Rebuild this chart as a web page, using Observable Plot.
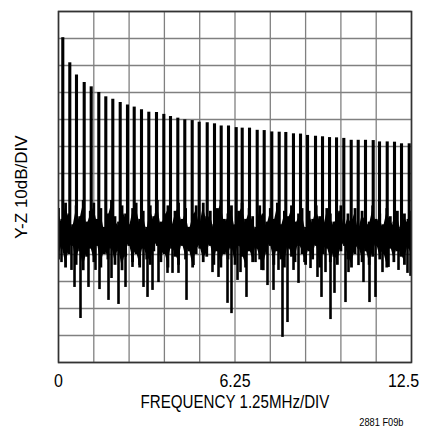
<!DOCTYPE html>
<html>
<head>
<meta charset="utf-8">
<script src="https://cdn.jsdelivr.net/npm/d3@7"></script>
<script src="https://cdn.jsdelivr.net/npm/@observablehq/plot@0.6"></script>
<style>
  html, body { margin: 0; padding: 0; background: #fff; }
  svg { overflow: visible; }
</style>
</head>
<body>
<div id="chart"></div>
<script>
// ---- data ----
const xTickLabels = [0, 6.25, 12.5];
const xGridMHz = [0, 1.25, 2.5, 3.75, 5, 6.25, 7.5, 8.75, 10, 11.25, 12.5];
const yGridDb = [0, 10, 20, 30, 40, 50, 60, 70, 80, 90, 100, 110, 120, 130];

// harmonic spikes (MHz, dB)
const spikeMHz = [
  0.152,0.400,0.637,0.910,1.158,1.427,1.675,1.923,2.185,2.443,
  2.681,2.939,3.198,3.470,3.729,3.966,4.225,4.472,4.734,4.982,
  5.266,5.524,5.761,6.020,6.293,6.505,6.764,7.036,7.284,7.553,
  7.815,8.049,8.320,8.570,8.818,9.101,9.349,9.597,9.845,10.103,
  10.365,10.613,10.871,11.144,11.367,11.640,11.898,12.146,12.419
];
const spikeDb = [
  120.3,111.0,106.5,103.7,102.1,100.0,98.4,97.5,96.3,95.4,
  94.6,93.6,92.7,92.6,91.9,91.1,90.5,89.9,89.6,89.0,
  88.8,88.4,87.6,87.6,87.0,86.8,86.8,86.0,85.9,85.4,
  85.3,85.2,84.7,84.6,84.1,83.8,83.6,83.3,83.2,83.0,
  82.3,82.3,82.3,82.2,81.7,81.7,81.6,81.0,81.0
];

// noise-floor level where spikes and dips join the band
const floorDb = 46;

// downward noise dips (MHz, dB)
const dipMHz = [
  0.106,0.460,0.567,0.779,1.062,1.310,1.452,1.771,1.877,2.125,
  2.373,2.620,2.868,3.010,3.152,3.329,3.541,3.860,4.037,4.249,
  4.533,4.780,5.453,5.666,5.985,6.126,6.339,6.445,6.657,6.976,
  7.188,7.401,7.613,7.790,7.932,8.109,8.322,8.499,8.711,8.924,
  9.171,9.313,9.455,9.632,9.773,10.163,10.269,10.623,10.800,11.013,
  11.225,11.473,11.686,12.040,12.358,12.465
];
const dipDb = [
  37.0,34.1,27.8,16.3,27.8,34.1,27.0,23.0,31.1,21.5,
  27.8,35.2,35.9,27.8,24.1,26.7,29.6,33.0,33.0,33.0,
  23.0,35.9,33.3,31.5,21.9,18.1,30.4,33.3,24.1,37.0,
  34.1,28.5,26.7,34.1,9.3,14.8,34.1,29.3,37.0,34.8,
  31.5,24.1,33.3,15.9,25.6,22.2,33.3,35.9,29.6,22.2,
  24.1,33.3,35.2,34.1,33.0,31.9
];

// dense noise band envelope (MHz, low dB, high dB)
const bandMHz = [
  0,0.125,0.25,0.375,0.5,0.625,0.75,0.875,1,1.125,
  1.25,1.375,1.5,1.625,1.75,1.875,2,2.125,2.25,2.375,
  2.5,2.625,2.75,2.875,3,3.125,3.25,3.375,3.5,3.625,
  3.75,3.875,4,4.125,4.25,4.375,4.5,4.625,4.75,4.875,
  5,5.125,5.25,5.375,5.5,5.625,5.75,5.875,6,6.125,
  6.25,6.375,6.5,6.625,6.75,6.875,7,7.125,7.25,7.375,
  7.5,7.625,7.75,7.875,8,8.125,8.25,8.375,8.5,8.625,
  8.75,8.875,9,9.125,9.25,9.375,9.5,9.625,9.75,9.875,
  10,10.125,10.25,10.375,10.5,10.625,10.75,10.875,11,11.125,
  11.25,11.375,11.5,11.625,11.75,11.875,12,12.125,12.25,12.375,
  12.5
];
const bandHigh = [
  57,53,59,55,51,58,54,60,52,56,
  59,53,57,50,55,60,54,52,58,55,
  51,57,59,53,56,50,58,54,60,52,
  55,58,51,56,59,53,57,50,55,58,
  52,59,54,56,51,57,60,53,55,58,
  51,56,59,53,57,54,50,58,55,52,
  57,53,59,51,56,54,58,52,55,57,
  50,56,53,58,54,51,57,55,52,56,
  58,51,55,53,57,50,56,54,52,58,
  53,55,51,57,54,52,56,50,55,53,
  56
];
const bandLow = [
  38,42,35,40,43,36,41,34,39,42,
  37,43,35,40,38,42,36,41,34,39,
  43,37,40,35,42,38,36,41,43,37,
  40,35,42,39,36,43,38,41,35,40,
  42,37,39,43,36,41,35,40,38,42,
  36,43,39,35,41,37,42,38,34,40,
  43,36,41,38,35,42,39,37,43,40,
  36,41,38,43,35,40,42,37,39,36,
  41,43,38,35,40,42,37,41,36,39,
  43,38,40,35,42,37,41,39,36,42,
  38
];

const xLabel = "FREQUENCY 1.25MHz/DIV";
const yLabel = "Y-Z 10dB/DIV";
const caption = "2881 F09b";

// ---- tables built from the arrays ----
const spikes = spikeMHz.map((f, i) => ({f, db: spikeDb[i]}));
const dips = dipMHz.map((f, i) => ({f, db: dipDb[i]}));
const band = bandMHz.map((f, i) => ({f, lo: bandLow[i], hi: bandHigh[i]}));

const font = "'Liberation Sans Narrow', 'Liberation Sans', Arial, sans-serif";

const chart = Plot.plot({
  width: 427,
  height: 430,
  marginTop: 11,
  marginBottom: 68,
  marginLeft: 58,
  marginRight: 16,
  style: {fontFamily: font, background: "#fff", color: "#000"},
  x: {domain: [0, 12.5]},
  y: {domain: [0, 130], axis: null},
  marks: [
    Plot.ruleX(xGridMHz, {stroke: "#808080", strokeWidth: 1.3}),
    Plot.ruleY(yGridDb, {stroke: "#808080", strokeWidth: 1.3}),
    Plot.areaY(band, {x: "f", y1: d => d.lo + 1.5, y2: d => d.hi - 1.5, fill: "#000", clip: true}),
    Plot.ruleX(band, {x: "f", y1: "lo", y2: "hi", stroke: "#000", strokeWidth: 2.8, clip: true}),
    Plot.ruleX(spikes, {x: "f", y1: floorDb, y2: "db", stroke: "#000", strokeWidth: 3.1}),
    Plot.ruleX(dips, {x: "f", y1: "db", y2: floorDb, stroke: "#000", strokeWidth: 2.6}),
    Plot.frame({stroke: "#333", strokeWidth: 1.6}),
    Plot.axisX([0, 6.25], {tickSize: 0, tickPadding: 11, fontSize: 19, tickFormat: d => String(d), label: null}),
    Plot.axisX([12.5], {tickSize: 0, tickPadding: 11, fontSize: 19, dx: -8, tickFormat: d => String(d), label: null}),
    Plot.text([xLabel], {frameAnchor: "bottom", dy: 45, fontSize: 18, fill: "#000"}),
    Plot.text([yLabel], {frameAnchor: "left", textAnchor: "middle", dx: -37, rotate: -90, fontSize: 17, fill: "#000"}),
    Plot.text([caption], {frameAnchor: "bottom-right", textAnchor: "end", dx: -8, dy: 63, fontSize: 11, fill: "#000"})
  ]
});
document.getElementById("chart").appendChild(chart);

// narrow the horizontal type to match the condensed face of the reference
chart.querySelectorAll("text").forEach(t => {
  if (t.textContent === yLabel) return;
  const w = t.getComputedTextLength();
  if (w > 0) {
    t.setAttribute("textLength", (w * 0.84).toFixed(1));
    t.setAttribute("lengthAdjust", "spacingAndGlyphs");
  }
});
</script>
</body>
</html>
